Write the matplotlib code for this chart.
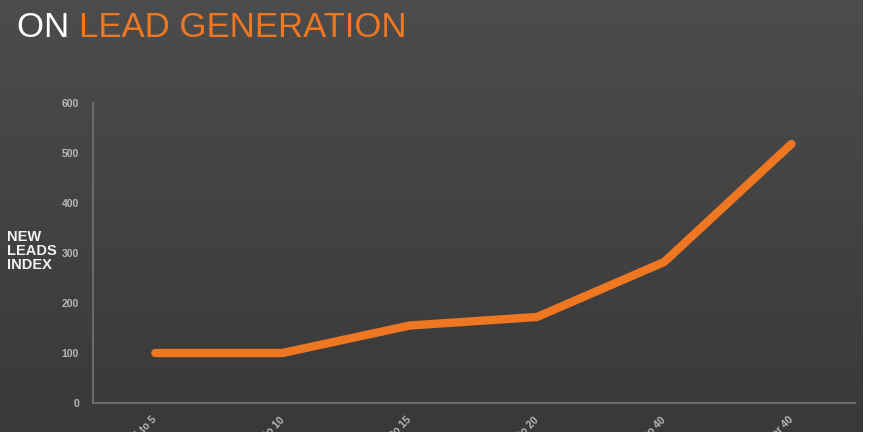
import numpy as np
import matplotlib
matplotlib.use("Agg")
import matplotlib.pyplot as plt

plt.rcParams["font.family"] = ["Liberation Sans", "DejaVu Sans"]

# datos
categories = ["1 to 5", "6 to 10", "11 to 15", "16 to 20", "21 to 40", "Over 40"]
leads_index = [100, 100, 155, 172, 282, 518]
y_ticks = [0, 100, 200, 300, 400, 500, 600]

orange = "#ef7722"
tick_color = "#b8b8b8"
axis_color = "#6a6a6a"

fig = plt.figure(figsize=(8.7, 4.32), dpi=100)
fig.patch.set_facecolor("white")

# fondo degradado gris (un poco mas claro arriba)
bg = fig.add_axes([0, 0, 863 / 870, 1], zorder=0)
grad = np.linspace(0, 1, 256).reshape(-1, 1)
bg.imshow(grad, aspect="auto", cmap=matplotlib.colors.LinearSegmentedColormap.from_list(
    "bg", ["#4c4c4c", "#393939"]), extent=[0, 1, 0, 1], origin="upper")
bg.axis("off")

ax = fig.add_axes([93 / 870, 29 / 432, 762 / 870, 300 / 432], zorder=1)
ax.patch.set_alpha(0)

x = np.arange(len(categories))
ax.plot(x, leads_index, color=orange, lw=6, solid_capstyle="round",
        solid_joinstyle="round")

ax.set_xlim(-0.49, 5.5)
ax.set_ylim(0, 600)
ax.set_yticks(y_ticks)
ax.set_xticks(x)
ax.set_xticklabels(categories, rotation=45, ha="right", va="center",
                   rotation_mode="anchor")

for s in ["top", "right"]:
    ax.spines[s].set_visible(False)
for s in ["left", "bottom"]:
    ax.spines[s].set_color(axis_color)
    ax.spines[s].set_linewidth(1.5)

ax.tick_params(axis="both", length=0, colors=tick_color, labelsize=7.5)
ax.tick_params(axis="y", pad=10)
ax.tick_params(axis="x", pad=11)
for lbl in ax.get_xticklabels() + ax.get_yticklabels():
    lbl.set_fontweight("bold")
    lbl.set_color(tick_color)

fig.text(7 / 870, 1 - 251 / 432, "NEW\nLEADS\nINDEX", color="#f2f2f2",
         fontsize=10.5, fontweight="bold", va="center", ha="left", linespacing=1.0)

# titulo en dos colores
t1 = fig.text(17 / 870, 1 - 37 / 432, "ON ", color="white", fontsize=25)
fig.canvas.draw()
bb = t1.get_window_extent()
fig.text(bb.x1 / 870, 1 - 37 / 432, "LEAD GENERATION", color=orange, fontsize=25)

plt.savefig("out.png", dpi=100)
